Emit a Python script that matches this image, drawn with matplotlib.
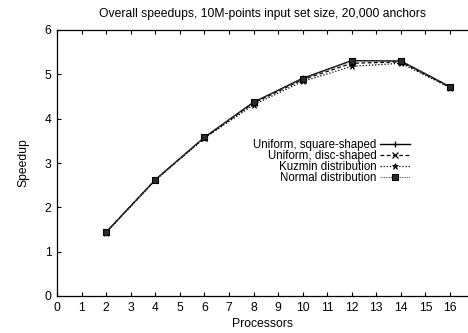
import matplotlib
matplotlib.use("Agg")
import matplotlib.pyplot as plt

plt.rcParams['font.family'] = ['Liberation Sans', 'DejaVu Sans']

processors = [2, 4, 6, 8, 10, 12, 14, 16]
square_shaped = [1.44, 2.62, 3.58, 4.37, 4.91, 5.31, 5.30, 4.72]
disc_shaped = [1.44, 2.62, 3.57, 4.35, 4.88, 5.25, 5.28, 4.71]
kuzmin = [1.43, 2.61, 3.56, 4.31, 4.84, 5.18, 5.25, 4.70]
normal = [1.44, 2.62, 3.58, 4.37, 4.90, 5.30, 5.31, 4.72]

fs = 8.7
fig = plt.figure(figsize=(4.68, 3.33), dpi=100)
ax = fig.add_axes([57/468, 1 - 296/333, 1 - 57/468, (296 - 30)/333])

ax.plot(processors, square_shaped, color='black', lw=1.0, ls='-',
        marker='+', ms=5, mew=0.9, label='Uniform, square-shaped')
ax.plot(processors, disc_shaped, color='black', lw=0.9, ls=(0, (3, 2)),
        marker='x', ms=4, mew=0.9, label='Uniform, disc-shaped')
ax.plot(processors, kuzmin, color='black', lw=0.9, ls=(0, (1, 1.5)),
        marker='*', ms=4.5, mew=0.5, label='Kuzmin distribution')
ax.plot(processors, normal, color='#555555', lw=0.8, ls=(0, (0.8, 0.8)),
        marker='s', ms=4, mfc='#2a2a2a', mec='black', mew=0.8,
        label='Normal distribution')

ax.set_xlim(0, (468 - 57) / ((450 - 57) / 16))
ax.set_ylim(0, 6)
ax.set_xticks(range(0, 17))
ax.set_yticks(range(0, 7))
ax.tick_params(direction='in', top=True, right=False, length=3, width=0.8,
               labelsize=fs, pad=4)
ax.spines['right'].set_visible(False)
for s in ['left', 'bottom', 'top']:
    ax.spines[s].set_linewidth(0.9)

ax.set_title('Overall speedups, 10M-points input set size, 20,000 anchors',
             fontsize=fs, pad=9)
ax.set_xlabel('Processors', fontsize=fs, labelpad=3)
ax.set_ylabel('Speedup', fontsize=fs, labelpad=11)

leg = ax.legend(loc='upper right', bbox_to_anchor=(410/468, 1 - 139/333),
                bbox_transform=fig.transFigure, frameon=False, fontsize=8.3,
                markerfirst=False, handlelength=2.6, handletextpad=0.3,
                labelspacing=-0.08, borderpad=0, borderaxespad=0)

fig.savefig('out.png', dpi=100)
